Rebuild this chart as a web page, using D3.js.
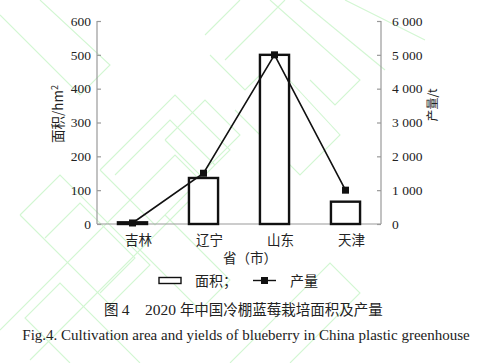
<!DOCTYPE html>
<html>
<head>
<meta charset="utf-8">
<script src="https://cdn.jsdelivr.net/npm/d3@7/dist/d3.min.js"></script>
<style>
  html, body { margin: 0; padding: 0; background: #fff; }
  svg { display: block; }
  .num { font-family: "Liberation Serif", "Times New Roman", serif; font-size: 13.5px; fill: #222; }
  .cjk { font-family: "Noto Sans CJK SC", sans-serif; font-size: 13.5px; fill: #222; }
</style>
</head>
<body>
<div id="chart"></div>
<script>
// 数据
const provinces = ['吉林', '辽宁', '山东', '天津'];
const areaHm2 = [5, 136, 500, 66];
const yieldT = [30, 1500, 5000, 1000];
const areaTicks = [0, 100, 200, 300, 400, 500, 600];
const yieldTicks = [0, 1000, 2000, 3000, 4000, 5000, 6000];

const W = 498, H = 363;
const m = { left: 97, right: 381, top: 21, bottom: 224 };

const svg = d3.select('#chart').append('svg')
  .attr('width', W).attr('height', H);

// 淡绿色水印（背景装饰，45° 斜向的描边方块）
const wm = svg.append('g').attr('fill', 'none').attr('stroke', '#d2f6d2').attr('stroke-width', 1.1);
[
  [[0, 330], [175, 155], [205, 185], [30, 360]],
  [[20, 215], [60, 175], [150, 265], [110, 305], [20, 215]],
  [[45, 238], [80, 203], [135, 258], [100, 293]],
  [[100, 170], [175, 95], [230, 150], [155, 225], [100, 170]],
  [[115, 175], [170, 120], [215, 165]],
  [[165, 140], [205, 100], [240, 135], [200, 175], [165, 140]],
  [[205, 35], [240, 0]],
  [[225, 60], [285, 0]],
  [[210, 55], [245, 90], [270, 65]],
  [[0, 15], [80, 95], [110, 65], [40, 0]],
  [[270, 0], [360, 80], [335, 105], [310, 80]],
  [[300, 0], [385, 70]],
  [[345, 0], [425, 40]],
  [[235, 110], [300, 175], [340, 135], [280, 70]],
  [[230, 363], [330, 263], [360, 293], [290, 363]],
  [[140, 363], [60, 283], [25, 318], [70, 363]],
  [[130, 240], [200, 310], [230, 280], [165, 215]]
].forEach(pts => wm.append('path').attr('d', d3.line()(pts)));

const x = d3.scaleBand().domain(provinces).range([m.left, m.right]).paddingInner(0.59).paddingOuter(0.295);
const yA = d3.scaleLinear().domain([0, 600]).range([m.bottom, m.top]);
const yY = d3.scaleLinear().domain([0, 6000]).range([m.bottom, m.top]);

const fmt = d => d3.format(',')(d).replace(/,/g, ' ');

// 左轴
const gl = svg.append('g').attr('transform', `translate(${m.left},0)`)
  .call(d3.axisRight(yA).tickValues(areaTicks).tickSize(4).tickFormat(''));
gl.selectAll('path, line').attr('stroke', '#999').attr('stroke-width', 1.2);
gl.select('.domain').attr('d', `M0,${m.top}H0V${m.bottom}`);
svg.append('g').selectAll('text').data(areaTicks).join('text')
  .attr('class', 'num').attr('x', m.left - 6).attr('y', d => yA(d)).attr('dy', '0.35em')
  .attr('text-anchor', 'end').text(d => d);

// 右轴
const gr = svg.append('g').attr('transform', `translate(${m.right},0)`)
  .call(d3.axisLeft(yY).tickValues(yieldTicks).tickSize(4).tickFormat(''));
gr.selectAll('path, line').attr('stroke', '#999').attr('stroke-width', 1.2);
gr.select('.domain').attr('d', `M0,${m.top}H0V${m.bottom}`);
svg.append('g').selectAll('text').data(yieldTicks).join('text')
  .attr('class', 'num').attr('x', m.right + 11).attr('y', d => yY(d)).attr('dy', '0.35em')
  .attr('text-anchor', 'start').text(fmt);

// 底轴
svg.append('line').attr('x1', m.left).attr('x2', m.right).attr('y1', m.bottom).attr('y2', m.bottom)
  .attr('stroke', '#999').attr('stroke-width', 1.2);
svg.append('g').selectAll('text').data(provinces).join('text')
  .attr('class', 'cjk').attr('x', d => x(d) + x.bandwidth() / 2 + 6).attr('y', 245)
  .attr('text-anchor', 'middle').text(d => d);

// 柱（面积）
svg.append('g').selectAll('rect').data(provinces).join('rect')
  .attr('x', d => x(d)).attr('width', x.bandwidth())
  .attr('y', (d, i) => yA(areaHm2[i]))
  .attr('height', (d, i) => m.bottom - yA(areaHm2[i]))
  .attr('fill', '#fff').attr('stroke', '#111').attr('stroke-width', 2.4);

// 折线（产量）
const cx = d => x(d) + x.bandwidth() / 2;
svg.append('path').datum(provinces)
  .attr('fill', 'none').attr('stroke', '#111').attr('stroke-width', 1.6)
  .attr('d', d3.line().x(cx).y((d, i) => yY(yieldT[i])));
svg.append('g').selectAll('rect').data(provinces).join('rect')
  .attr('x', d => cx(d) - 3.5).attr('y', (d, i) => yY(yieldT[i]) - 3.5)
  .attr('width', 7).attr('height', 7).attr('fill', '#111');

// 轴标题
svg.append('text').attr('class', 'cjk')
  .attr('transform', 'translate(63,114) rotate(-90)').attr('text-anchor', 'middle')
  .html('面积/hm<tspan dy="-5" font-size="9">2</tspan>');
svg.append('text').attr('class', 'cjk').style('font-size', '12px')
  .attr('transform', 'translate(437,105) rotate(-90)').attr('text-anchor', 'middle')
  .text('产量/t');
svg.append('text').attr('class', 'cjk').attr('x', 250).attr('y', 263)
  .attr('text-anchor', 'middle').text('省（市）');

// 图例
svg.append('rect').attr('x', 159).attr('y', 277.5).attr('width', 22).attr('height', 6)
  .attr('fill', '#fff').attr('stroke', '#111').attr('stroke-width', 1.4);
svg.append('text').attr('class', 'cjk').style('font-size', '14px').attr('x', 195).attr('y', 286).text('面积；');
svg.append('line').attr('x1', 253).attr('x2', 276).attr('y1', 280.5).attr('y2', 280.5)
  .attr('stroke', '#111').attr('stroke-width', 1.4);
svg.append('rect').attr('x', 261).attr('y', 277).attr('width', 7).attr('height', 7).attr('fill', '#111');
svg.append('text').attr('class', 'cjk').style('font-size', '14px').attr('x', 290).attr('y', 286).text('产量');

// 图题
const cap = svg.append('text').attr('class', 'cjk').style('font-size', '14.5px').attr('x', 104).attr('y', 315);
cap.append('tspan').text('图 ');
cap.append('tspan').attr('class', 'num').style('font-size', '15.5px').text('4');
cap.append('tspan').attr('x', 145).attr('class', 'num').style('font-size', '15.5px').text('2020 ');
cap.append('tspan').text('年中国冷棚蓝莓栽培面积及产量');
svg.append('text').attr('class', 'num').style('font-size', '15px').attr('x', 246).attr('y', 340)
  .attr('text-anchor', 'middle').text('Fig.4. Cultivation area and yields of blueberry in China plastic greenhouse');
</script>
</body>
</html>
